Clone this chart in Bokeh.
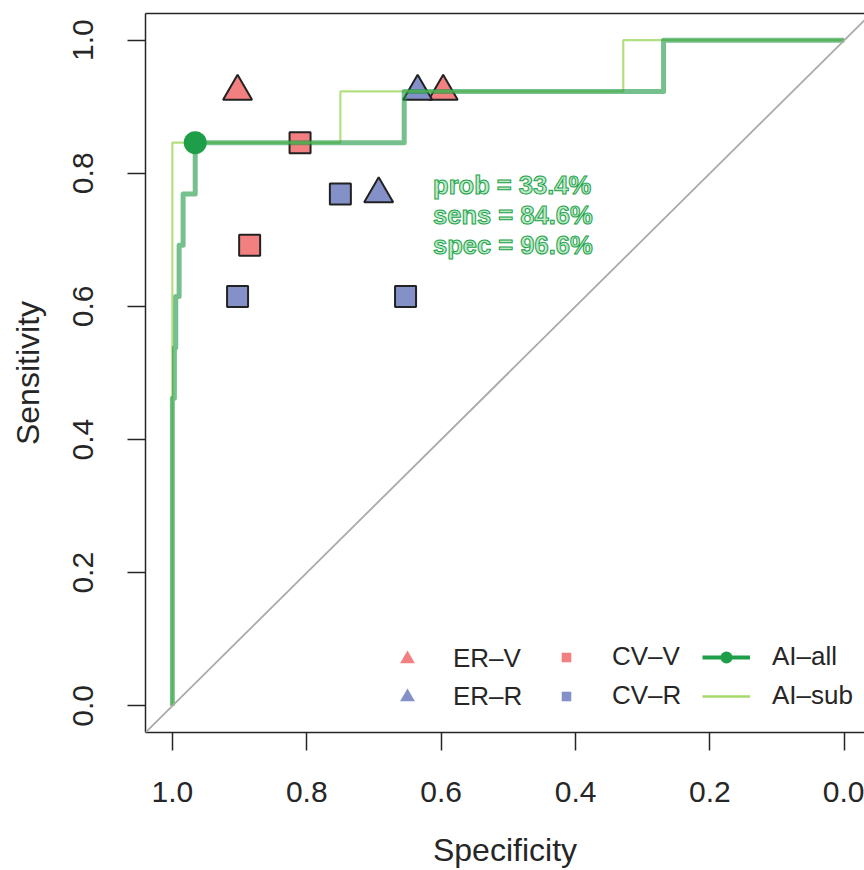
import math
from bokeh.plotting import figure
from bokeh.models import (Range1d, FixedTicker, NumeralTickFormatter, LinearAxis,
                          Slope, Legend, LegendItem, ColumnDataSource)
from bokeh.core.properties import value
from bokeh.embed import file_html
from bokeh.resources import INLINE

# ---------------- data ----------------
# AI-all ROC curve (specificity, sensitivity)
ai_all_spec = [1.0, 1.0, 0.997, 0.997, 0.995, 0.995, 0.99, 0.99, 0.984, 0.984,
               0.966, 0.966, 0.655, 0.655, 0.269, 0.269, 0.0]
ai_all_sens = [0.0, 0.462, 0.462, 0.538, 0.538, 0.615, 0.615, 0.692, 0.692, 0.769,
               0.769, 0.846, 0.846, 0.923, 0.923, 1.0, 1.0]
# AI-sub ROC curve
ai_sub_spec = [1.0, 1.0, 0.75, 0.75, 0.329, 0.329, 0.0]
ai_sub_sens = [0.0, 0.846, 0.846, 0.923, 0.923, 1.0, 1.0]

# best threshold of AI-all
best_spec = [0.966]
best_sens = [0.846]
best_prob = 33.4

# readers
er_v_spec = [0.903, 0.597]
er_v_sens = [0.923, 0.923]
er_r_spec = [0.635, 0.693]
er_r_sens = [0.923, 0.769]
cv_v_spec = [0.81, 0.885]
cv_v_sens = [0.846, 0.692]
cv_r_spec = [0.75, 0.903, 0.653]
cv_r_sens = [0.769, 0.615, 0.615]

ticks = [0.0, 0.2, 0.4, 0.6, 0.8, 1.0]
legend_labels = ["ER–V", "ER–R", "CV–V", "CV–R", "AI–all", "AI–sub"]

# ---------------- style ----------------
RED = "#F28080"
BLUE = "#8391C8"
GREEN_DARK = "#1E9E48"
GREEN_THICK = "#1A9641"
GREEN_THIN = "#A6D96A"
FONT = "Liberation Sans"
TXT = "#262626"

p = figure(width=864, height=870, x_range=Range1d(1.04, -0.030), y_range=Range1d(-0.04, 1.04),
           output_backend="svg", toolbar_location=None,
           min_border_left=145, min_border_top=13, min_border_right=0, min_border_bottom=134,
           x_axis_label="Specificity", y_axis_label="Sensitivity")
p.outline_line_color = None
p.grid.visible = False
p.background_fill_color = "white"
p.border_fill_color = "white"

for ax in (p.xaxis[0], p.yaxis[0]):
    ax.ticker = FixedTicker(ticks=ticks)
    ax.formatter = NumeralTickFormatter(format="0.0")
    ax.minor_tick_line_color = None
    ax.major_tick_in = 0
    ax.major_tick_out = 18
    ax.major_tick_line_width = 1.5
    ax.major_tick_line_color = TXT
    ax.axis_line_width = 1.5
    ax.axis_line_color = TXT
    ax.major_label_text_font = FONT
    ax.major_label_text_font_size = "30px"
    ax.major_label_text_color = TXT
    ax.axis_label_text_font = FONT
    ax.axis_label_text_font_size = "32px"
    ax.axis_label_text_font_style = "normal"
    ax.axis_label_text_color = TXT

p.xaxis[0].major_label_standoff = 31
p.xaxis[0].axis_label_standoff = 27
p.yaxis[0].major_label_orientation = "parallel"
p.yaxis[0].major_label_standoff = 34
p.yaxis[0].axis_label_standoff = 25

top = LinearAxis(ticker=FixedTicker(ticks=[]), major_label_text_font_size="0px",
                 major_tick_in=0, major_tick_out=0, minor_tick_line_color=None,
                 axis_line_width=1.5, axis_line_color=TXT, major_label_standoff=0)
p.add_layout(top, "above")

# diagonal
p.add_layout(Slope(gradient=-1, y_intercept=1, line_color="#aaaaaa", line_width=1.8))

# reader markers (drawn below the curves)
p.scatter(er_v_spec, er_v_sens, marker="triangle", size=29, fill_color=RED,
          line_color="#222222", line_width=2)
p.scatter(er_r_spec, er_r_sens, marker="triangle", size=29, fill_color=BLUE,
          line_color="#222222", line_width=2)
p.scatter(cv_v_spec, cv_v_sens, marker="square", size=21, fill_color=RED,
          line_color="#222222", line_width=2)
p.scatter(cv_r_spec, cv_r_sens, marker="square", size=21, fill_color=BLUE,
          line_color="#222222", line_width=2)

# ROC curves
p.line(ai_sub_spec, ai_sub_sens, line_color=GREEN_THIN, line_alpha=0.85, line_width=2.2)
p.line(ai_all_spec, ai_all_sens, line_color=GREEN_THICK, line_alpha=0.6, line_width=5,
       line_join="round")
p.scatter(best_spec, best_sens, marker="circle", size=23, fill_color=GREEN_DARK,
          line_color=None)

# threshold annotation
lines_txt = [f"prob = {best_prob:.1f}%", f"sens = {best_sens[0]*100:.1f}%",
             f"spec = {best_spec[0]*100:.1f}%"]
tx = [best_spec[0] - 0.354] * 3
ty = [best_sens[0] - 0.064 - 0.045 * i for i in range(3)]
p.text(tx, ty, text=lines_txt, text_align="left", text_baseline="middle",
       text_font=value(FONT), text_font_size="25.5px", text_font_style="bold",
       text_color="#BFE8CA", text_outline_color="#1AA348")

# legend (proxy renderers, not visible in the plot area)
nan = float("nan")


def proxy_scatter(marker, color):
    return p.scatter("x", "y", source=ColumnDataSource(dict(x=[nan], y=[nan])),
                     marker=marker, fill_color=color, line_color=None)


def proxy_line(color, width):
    return p.line("x", "y", source=ColumnDataSource(dict(x=[nan], y=[nan])),
                  line_color=color, line_width=width)


r_erv = proxy_scatter("triangle", RED)
r_err = proxy_scatter("triangle", BLUE)
r_cvv = proxy_scatter("square", RED)
r_cvr = proxy_scatter("square", BLUE)
r_all_l = proxy_line(GREEN_DARK, 4)
r_all_p = proxy_scatter("circle", GREEN_DARK)
r_sub = proxy_line(GREEN_THIN, 2.5)

# (items, x offset, y offset, glyph height, spacing)
groups = [
    ([LegendItem(label=legend_labels[0], renderers=[r_erv]),
      LegendItem(label=legend_labels[1], renderers=[r_err])], 238, 17, 37, 1),
    ([LegendItem(label=legend_labels[2], renderers=[r_cvv]),
      LegendItem(label=legend_labels[3], renderers=[r_cvr])], 397, 21, 24, 8),
    ([LegendItem(label=legend_labels[4], renderers=[r_all_l, r_all_p]),
      LegendItem(label=legend_labels[5], renderers=[r_sub])], 557, 21, 30, 8),
]
for its, xoff, yoff, gh, sp in groups:
    lg = Legend(items=its, location=(xoff, yoff), orientation="vertical",
                glyph_width=48, glyph_height=gh, label_standoff=22, spacing=sp,
                padding=0, margin=0, border_line_color=None, background_fill_alpha=0,
                label_text_font=FONT, label_text_font_size="26px", label_text_color=TXT,
                label_height=30)
    p.add_layout(lg, "center")

open("out.html", "w").write(file_html(p, INLINE))
